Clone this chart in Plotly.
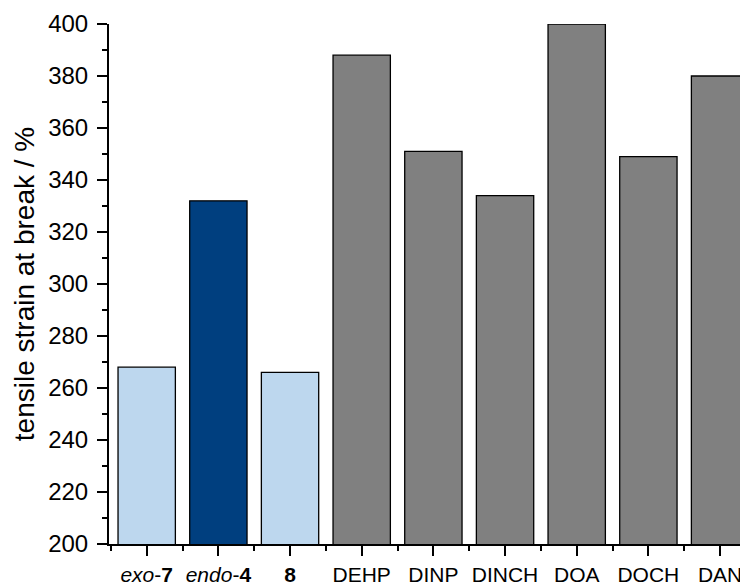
import plotly.graph_objects as go

categories = ["<i>exo</i>-<b>7</b>", "<i>endo</i>-<b>4</b>", "<b>8</b>", "DEHP", "DINP",
              "DINCH", "DOA", "DOCH", "DAN"]
strain = [268, 332, 266, 388, 351, 334, 400, 349, 380]
bar_colors = ["#BDD7EE", "#003F7F", "#BDD7EE", "#808080", "#808080",
              "#808080", "#808080", "#808080", "#808080"]
y_ticks = [200, 220, 240, 260, 280, 300, 320, 340, 360, 380, 400]

x_pos = list(range(len(categories)))

fig = go.Figure(go.Bar(
    x=x_pos, y=strain, width=0.8,
    marker=dict(color=bar_colors, line=dict(color="black", width=1.3)),
))

font_family = "Arial, Liberation Sans, sans-serif"
# page body has an 8px default margin, so the figure is sized to fit the window
fig.update_layout(
    width=740, height=577,
    margin=dict(l=101, r=0, t=16, b=41),
    plot_bgcolor="white", paper_bgcolor="white",
    showlegend=False,
    font=dict(family=font_family, color="black"),
)
fig.update_xaxes(
    range=[-0.526, 8.39], automargin=False,
    tickmode="array", tickvals=x_pos, ticktext=categories,
    ticks="outside", ticklen=10, tickwidth=2, tickcolor="black",
    showline=True, linewidth=2, linecolor="black",
    showgrid=False, zeroline=False,
    tickfont=dict(size=21, family=font_family, color="black"),
    ticklabelstandoff=1,
    minor=dict(tickmode="array", tickvals=[i + 0.5 for i in x_pos[:-1]] + [-0.5],
               ticks="outside", ticklen=5, tickwidth=2, tickcolor="black", showgrid=False),
)
fig.update_yaxes(
    range=[200, 400], automargin=False,
    tickmode="array", tickvals=y_ticks,
    ticks="outside", ticklen=10, tickwidth=2, tickcolor="black",
    showline=True, linewidth=2, linecolor="black",
    showgrid=False, zeroline=False,
    tickfont=dict(size=24, family=font_family, color="black"),
    ticklabelstandoff=4,
    minor=dict(dtick=10, tick0=0, ticks="outside", ticklen=5, tickwidth=2,
               tickcolor="black", showgrid=False),
    title=dict(text="tensile strain at break / %", standoff=5,
               font=dict(size=28, family=font_family, color="black")),
)
fig.write_html("out.html")
